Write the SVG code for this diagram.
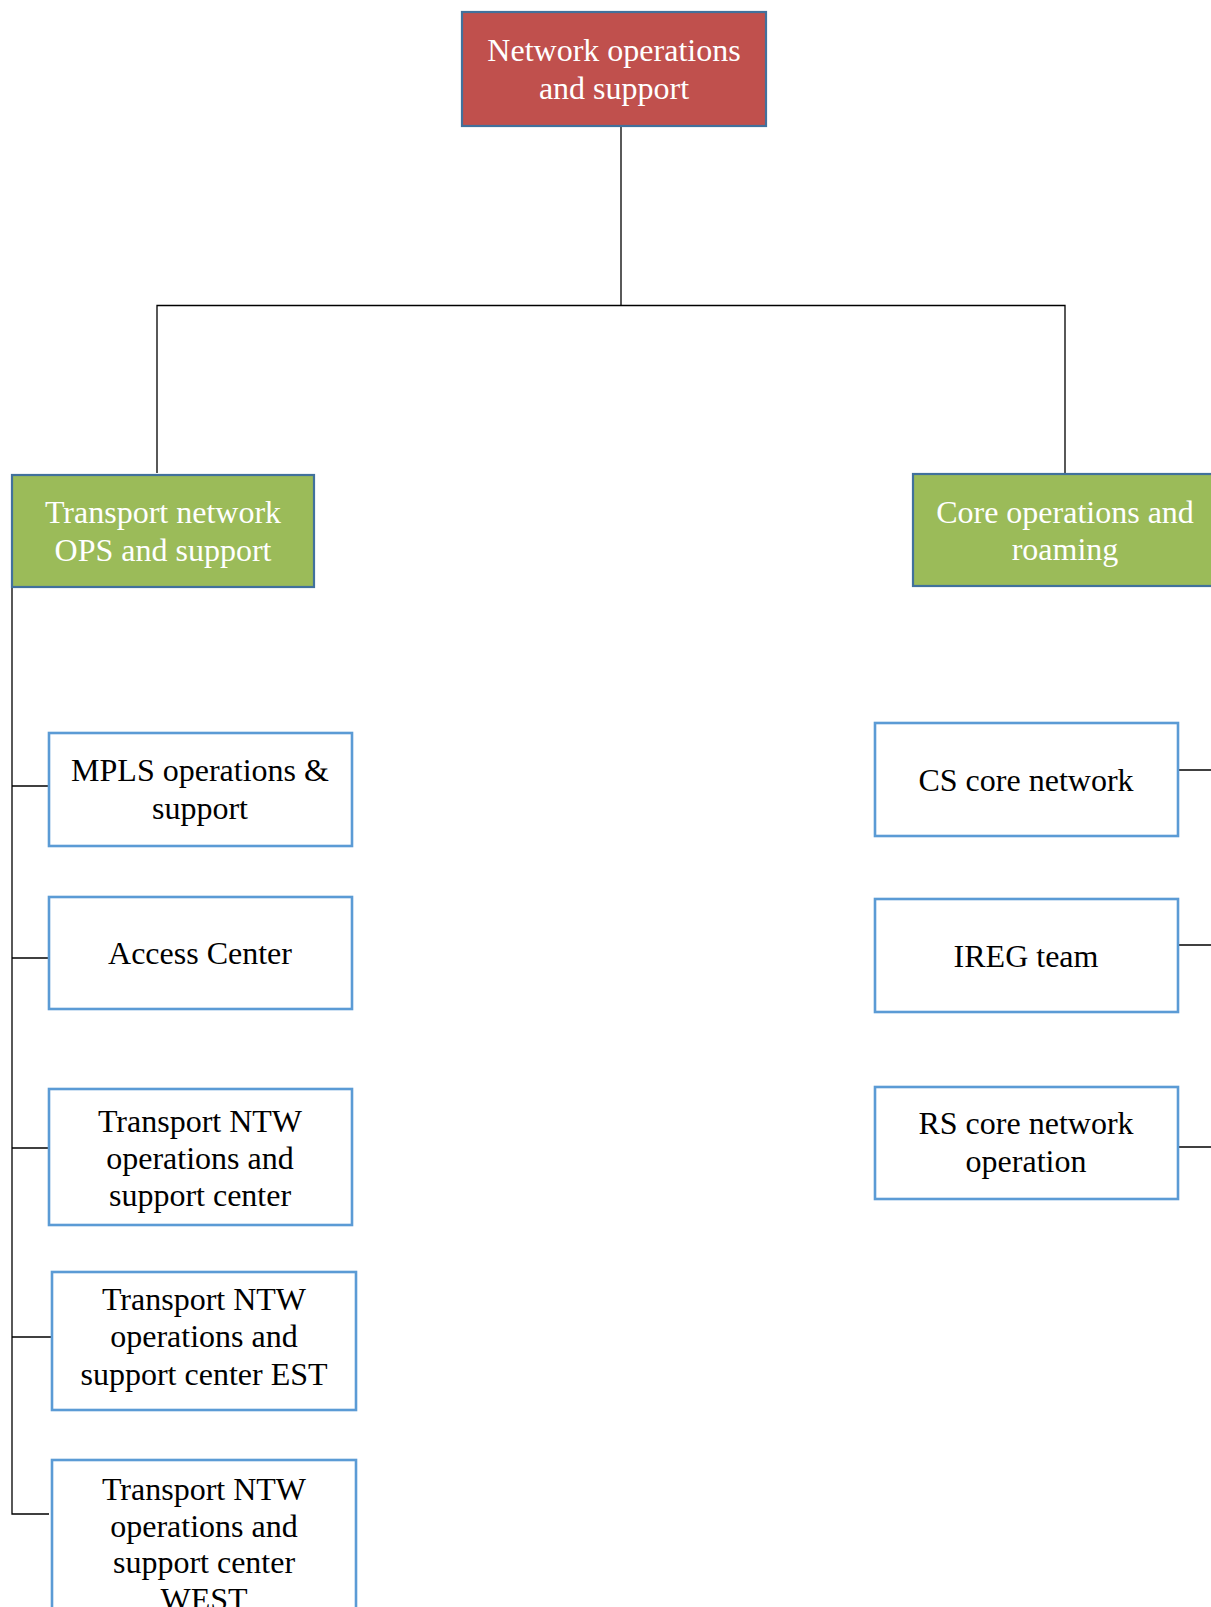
<svg xmlns="http://www.w3.org/2000/svg" width="1211" height="1607" viewBox="0 0 1211 1607">
  <style>
    .lbl { font-family: "Liberation Serif", "Times New Roman", serif; font-size: 32px; text-anchor: middle; }
    .dark { fill: #000000; }
    .light { fill: #ffffff; }
    .root { fill: #C0504D; stroke: #41719C; stroke-width: 2.2; }
    .branch { fill: #9BBB59; stroke: #41719C; stroke-width: 2.2; }
    .leaf { fill: #ffffff; stroke: #5B9BD5; stroke-width: 2.6; }
    .wire { fill: none; stroke: #000000; stroke-width: 1.3; }
  </style>
  <rect width="1211" height="1607" fill="#ffffff"/>

  <!-- connectors -->
  <g id="connectors" class="wire">
    <path d="M621 126 V305.5"/>
    <path d="M157 473 V305.5 H1065 V474"/>
    <path d="M12 587 V1514 H49"/>
    <path d="M12 786 H49"/>
    <path d="M12 958 H49"/>
    <path d="M12 1148 H49"/>
    <path d="M12 1337 H52"/>
    <path d="M1178 770 H1211"/>
    <path d="M1178 945 H1211"/>
    <path d="M1178 1147 H1211"/>
  </g>

  <!-- top level -->
  <g id="node-network-ops">
    <rect class="root" x="462" y="12" width="304" height="114"/>
    <text class="lbl light" x="614" y="61">Network operations</text>
    <text class="lbl light" x="614" y="99">and support</text>
  </g>

  <!-- second level -->
  <g id="node-transport">
    <rect class="branch" x="12" y="475" width="302" height="112"/>
    <text class="lbl light" x="163" y="523">Transport network</text>
    <text class="lbl light" x="163" y="561">OPS and support</text>
  </g>
  <g id="node-core">
    <rect class="branch" x="913" y="474" width="302" height="112"/>
    <text class="lbl light" x="1065" y="523">Core operations and</text>
    <text class="lbl light" x="1065" y="560">roaming</text>
  </g>

  <!-- transport branch -->
  <g id="node-mpls">
    <rect class="leaf" x="49" y="733" width="303" height="113"/>
    <text class="lbl dark" x="200" y="781">MPLS operations &amp;</text>
    <text class="lbl dark" x="200" y="819">support</text>
  </g>
  <g id="node-access">
    <rect class="leaf" x="49" y="897" width="303" height="112"/>
    <text class="lbl dark" x="200" y="964">Access Center</text>
  </g>
  <g id="node-ntw-center">
    <rect class="leaf" x="49" y="1089" width="303" height="136"/>
    <text class="lbl dark" x="200" y="1132">Transport NTW</text>
    <text class="lbl dark" x="200" y="1169">operations and</text>
    <text class="lbl dark" x="200" y="1206">support center</text>
  </g>
  <g id="node-ntw-est">
    <rect class="leaf" x="52" y="1272" width="304" height="138"/>
    <text class="lbl dark" x="204" y="1310">Transport NTW</text>
    <text class="lbl dark" x="204" y="1347">operations and</text>
    <text class="lbl dark" x="204" y="1385">support center EST</text>
  </g>
  <g id="node-ntw-west">
    <rect class="leaf" x="52" y="1460" width="304" height="170"/>
    <text class="lbl dark" x="204" y="1500">Transport NTW</text>
    <text class="lbl dark" x="204" y="1537">operations and</text>
    <text class="lbl dark" x="204" y="1573">support center</text>
    <text class="lbl dark" x="204" y="1610">WEST</text>
  </g>

  <!-- core branch -->
  <g id="node-cs-core">
    <rect class="leaf" x="875" y="723" width="303" height="113"/>
    <text class="lbl dark" x="1026" y="791">CS core network</text>
  </g>
  <g id="node-ireg">
    <rect class="leaf" x="875" y="899" width="303" height="113"/>
    <text class="lbl dark" x="1026" y="967">IREG team</text>
  </g>
  <g id="node-rs-core">
    <rect class="leaf" x="875" y="1087" width="303" height="112"/>
    <text class="lbl dark" x="1026" y="1134">RS core network</text>
    <text class="lbl dark" x="1026" y="1172">operation</text>
  </g>
</svg>
